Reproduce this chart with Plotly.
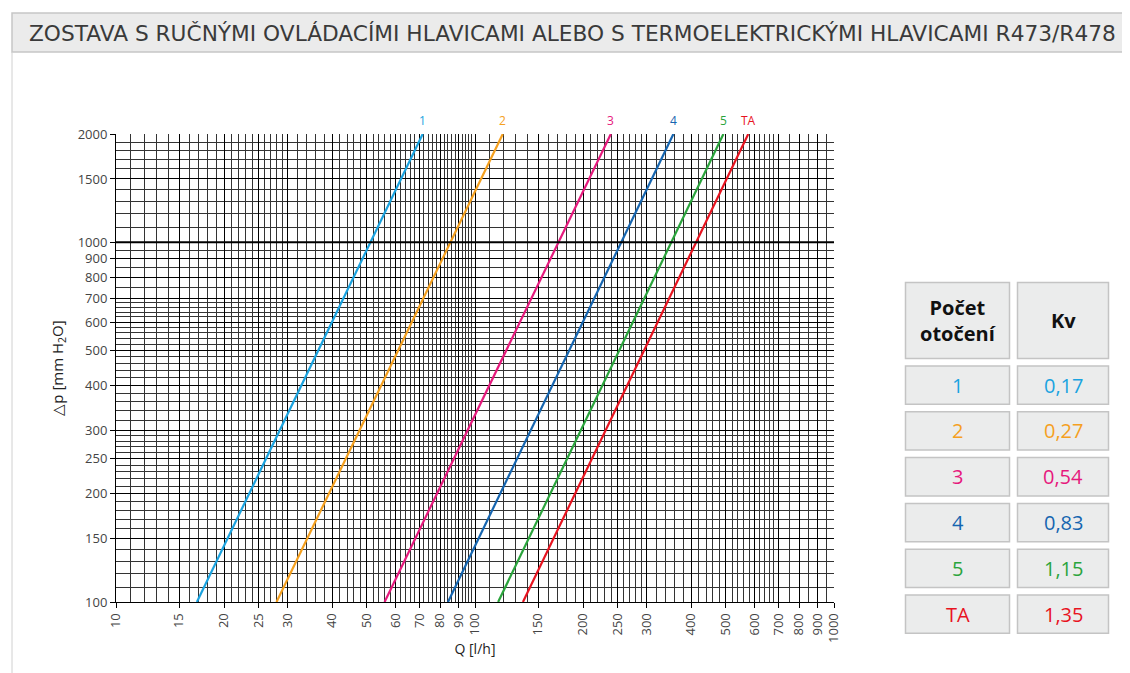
import math
import plotly.graph_objects as go

# ---------------- data ----------------
series_names = ["1", "2", "3", "4", "5", "TA"]
kv_values = ["0,17", "0,27", "0,54", "0,83", "1,15", "1,35"]
series_colors = ["#1aa3e0", "#f5a01e", "#e6197d", "#1565b0", "#2aa43c", "#e8131f"]
dp_points = [100, 2000]                      # Δp [mm H2O] at line ends
q_at_dp100 = [16.8, 28.0, 56.0, 84.1, 116.0, 136.0]   # Q [l/h] at Δp = 100
q_at_dp2000 = [71.5, 119.5, 239.0, 357.0, 492.0, 577.0]  # Q [l/h] at Δp = 2000

x_tick_vals = [10, 15, 20, 25, 30, 40, 50, 60, 70, 80, 90, 100, 150, 200, 250,
               300, 400, 500, 600, 700, 800, 900, 1000]
y_tick_vals = [100, 150, 200, 250, 300, 400, 500, 600, 700, 800, 900, 1000, 1500, 2000]
y_emphasis = [1000]

title_text = "ZOSTAVA S RUČNÝMI OVLÁDACÍMI HLAVICAMI ALEBO S TERMOELEKTRICKÝMI HLAVICAMI R473/R478"
table_head = ["Počet<br>otočení", "Kv"]

# grid (log paper) values
x_grid = (list(range(11, 30)) + list(range(32, 100, 2)) +
          list(range(110, 300, 10)) + list(range(320, 700, 20)) +
          list(range(750, 1000, 50)))
y_grid = (list(range(110, 300, 10)) + list(range(320, 700, 20)) +
          list(range(750, 1000, 50)) + list(range(1100, 2000, 100)))
x_minor = [v for v in x_grid if v not in x_tick_vals]
y_minor = [v for v in y_grid if v not in y_tick_vals]

# ---------------- layout geometry (page pixels; page body has 8px margin) ----------------
OFF = 8
W, H = 1130 - OFF, 673 - OFF
PLOT_L, PLOT_R, PLOT_T, PLOT_B = 116, 834, 134, 602
PW, PH = PLOT_R - PLOT_L, PLOT_B - PLOT_T
L, T = PLOT_L - OFF, PLOT_T - OFF
R, B = W - L - PW, H - T - PH


def px(x):
    return (x - PLOT_L) / PW


def py(y):
    return (PLOT_B - y) / PH


fig = go.Figure()

for name, c, q0, q1 in zip(series_names, series_colors, q_at_dp100, q_at_dp2000):
    fig.add_trace(go.Scatter(x=[q0, q1], y=dp_points, mode="lines",
                             line=dict(color=c, width=2.2), name=name,
                             showlegend=False, hoverinfo="skip"))

annotations = []
shapes = []

# labels above lines
for name, c, q1 in zip(series_names, series_colors, q_at_dp2000):
    annotations.append(dict(x=math.log10(q1), xref="x", y=1, yref="paper",
                            xanchor="center", yanchor="bottom", yshift=3, text=name,
                            showarrow=False,
                            font=dict(family="Open Sans", size=12, color=c)))

# emphasized 1000 line
ymin, ymax = math.log10(dp_points[0]), math.log10(dp_points[1])
for v in y_emphasis:
    yp = (math.log10(v) - ymin) / (ymax - ymin)
    shapes.append(dict(type="line", xref="paper", yref="paper", x0=0, x1=1,
                       y0=yp, y1=yp, line=dict(color="black", width=2), layer="above"))

# header band
shapes.append(dict(type="rect", xref="paper", yref="paper", x0=px(12), x1=px(1140),
                   y0=py(52), y1=py(13), fillcolor="#ebebeb",
                   line=dict(color="#c6c6c6", width=1.5), layer="below"))
shapes.append(dict(type="line", xref="paper", yref="paper", x0=px(12), x1=px(12),
                   y0=py(52), y1=py(680), line=dict(color="#d0d0d0", width=1)))
annotations.append(dict(x=px(27), y=py(33), xref="paper", yref="paper",
                        xanchor="left", yanchor="middle", text=title_text, showarrow=False,
                        font=dict(family="DejaVu Sans", size=21.7, color="#3a3a3a")))

# table
cols = [(905.5, 1009.5), (1017.5, 1108.5)]
head_y = (282.5, 358.5)
row_top0, row_step, row_h = 366.0, 45.8, 38.3


def cell(x0, x1, y0, y1):
    shapes.append(dict(type="rect", xref="paper", yref="paper",
                       x0=px(x0), x1=px(x1), y0=py(y1), y1=py(y0),
                       fillcolor="#ebecec", line=dict(color="#c4c4c4", width=1.5)))


for (cx0, cx1), txt in zip(cols, table_head):
    cell(cx0, cx1, *head_y)
    annotations.append(dict(x=px((cx0 + cx1) / 2), y=py(sum(head_y) / 2),
                            xref="paper", yref="paper", xanchor="center", yanchor="middle",
                            showarrow=False, text="<b>" + txt + "</b>",
                            font=dict(family="Open Sans", size=20, color="#111")))

for i, (name, kv, c) in enumerate(zip(series_names, kv_values, series_colors)):
    y0 = row_top0 + i * row_step
    y1 = y0 + row_h
    for (cx0, cx1), txt in zip(cols, [name, kv]):
        cell(cx0, cx1, y0, y1)
        annotations.append(dict(x=px((cx0 + cx1) / 2), y=py((y0 + y1) / 2),
                                xref="paper", yref="paper", xanchor="center",
                                yanchor="middle", showarrow=False, text=txt,
                                font=dict(family="Open Sans", size=20, color=c)))

tick_font = dict(family="Open Sans", size=13, color="#444")

fig.update_layout(
    width=W, height=H, autosize=False,
    margin=dict(l=L, r=R, t=T, b=B),
    paper_bgcolor="white", plot_bgcolor="white",
    showlegend=False,
    shapes=shapes, annotations=annotations,
    xaxis=dict(type="log", range=[math.log10(x_tick_vals[0]), math.log10(x_tick_vals[-1])],
               tickmode="array", tickvals=x_tick_vals, ticktext=[str(v) for v in x_tick_vals],
               tickangle=-90, tickfont=tick_font, ticks="outside", ticklen=5,
               tickcolor="black", showline=True, linecolor="black", linewidth=1,
               showgrid=True, gridcolor="black", gridwidth=1, zeroline=False,
               minor=dict(tickmode="array", tickvals=x_minor, showgrid=True,
                          gridcolor="#333333", gridwidth=1, ticks=""),
               title=dict(text="Q [l/h]", standoff=2,
                          font=dict(family="Open Sans", size=14, color="#222"))),
    yaxis=dict(type="log", range=[ymin, ymax],
               tickmode="array", tickvals=y_tick_vals, ticktext=[str(v) for v in y_tick_vals],
               tickfont=tick_font, ticks="outside", ticklen=5,
               tickcolor="black", showline=True, linecolor="black", linewidth=1,
               showgrid=True, gridcolor="black", gridwidth=1, zeroline=False,
               minor=dict(tickmode="array", tickvals=y_minor, showgrid=True,
                          gridcolor="#333333", gridwidth=1, ticks=""),
               title=dict(text="△p [mm H<sub>2</sub>O]", standoff=10,
                          font=dict(family="Open Sans", size=15, color="#222"))),
)

fig.write_html("out.html")
